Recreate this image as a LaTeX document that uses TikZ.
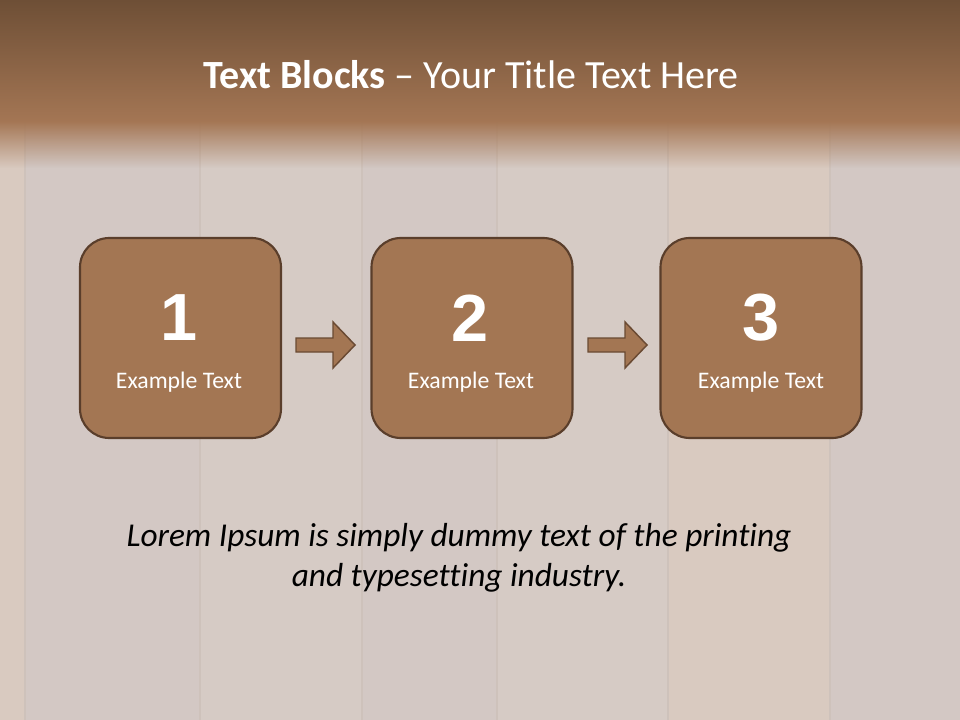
\documentclass[tikz,border=0pt]{standalone}
\usepackage{fontspec}
\setmainfont[Ligatures=NoCommon]{Carlito}
\newfontfamily\numfont{Liberation Sans}
\usetikzlibrary{fadings}
\definecolor{bgA}{HTML}{D6CBC5}
\definecolor{bgB}{HTML}{D9CAC0}
\definecolor{bgC}{HTML}{D3C8C4}
\definecolor{seam}{HTML}{CEC2BB}
\definecolor{topD}{HTML}{6E4F36}
\definecolor{topL}{HTML}{A47654}
\definecolor{boxfill}{HTML}{A37653}
\definecolor{boxline}{HTML}{5A3E2B}
\definecolor{arrfill}{HTML}{A37653}
\definecolor{arrline}{HTML}{6A4A33}
\tikzset{
  stepbox/.style={draw=boxline, line width=1.6pt, fill=boxfill, rounded corners=22pt},
  bignum/.style={text=white, font=\numfont\bfseries\fontsize{50}{50}\selectfont},
  boxlabel/.style={text=white, font=\fontsize{17.8}{20}\selectfont},
  blockarrow/.style={draw=arrline, line width=1.1pt, fill=arrfill, line join=miter},
}
\begin{document}
\begin{tikzpicture}[x=0.75pt,y=-0.75pt]
\useasboundingbox (0,0) rectangle (960,720);
% background planks
\fill[bgA] (0,0) rectangle (960,720);
\fill[bgB] (0,0) rectangle (25,720);
\fill[bgC] (25,0) rectangle (200,720);
\fill[bgA] (200,0) rectangle (362,720);
\fill[bgC] (362,0) rectangle (497,720);
\fill[bgB] (668,0) rectangle (830,720);
\fill[bgC] (830,0) rectangle (960,720);
\foreach \sx in {25,200,362,497,668,830}{
  \draw[seam, line width=1pt] (\sx,120) -- (\sx,720);
}
% title band
\shade[top color=topD, bottom color=topL] (0,0) rectangle (960,122);
\fill[topL, path fading=south] (0,121) rectangle (960,168);
\node[text=white, font=\fontsize{30}{36}\selectfont] (title) at (471,75) {\textbf{Text Blocks} -- Your Title Text Here};
% boxes
\node[stepbox, minimum width=150.75pt, minimum height=150pt] (b1) at (180.5,338) {};
\node[stepbox, minimum width=150.75pt, minimum height=150pt] (b2) at (472,338) {};
\node[stepbox, minimum width=150.75pt, minimum height=150pt] (b3) at (761,338) {};
\node[bignum] (n1) at (179,318) {1};
\node[bignum] (n2) at (470,318) {2};
\node[bignum] (n3) at (761,318) {3};
\node[boxlabel] (l1) at (179,382) {Example Text};
\node[boxlabel] (l2) at (471,382) {Example Text};
\node[boxlabel] (l3) at (761,382) {Example Text};
% arrows
\coordinate (a1s) at (296,345);
\coordinate (a2s) at (588,345);
\draw[blockarrow] (a1s) ++(0,-7) -- ++(37,0) -- ++(0,-16) -- ++(22,23) -- ++(-22,23) -- ++(0,-16) -- ++(-37,0) -- cycle;
\draw[blockarrow] (a2s) ++(0,-7) -- ++(37,0) -- ++(0,-16) -- ++(22,23) -- ++(-22,23) -- ++(0,-16) -- ++(-37,0) -- cycle;
% lorem
\node[text=black, font=\itshape\fontsize{25}{30}\selectfont, align=center] (lorem) at (459,558) {Lorem Ipsum is simply dummy text of the printing\\and typesetting industry.};
\end{tikzpicture}
\end{document}
